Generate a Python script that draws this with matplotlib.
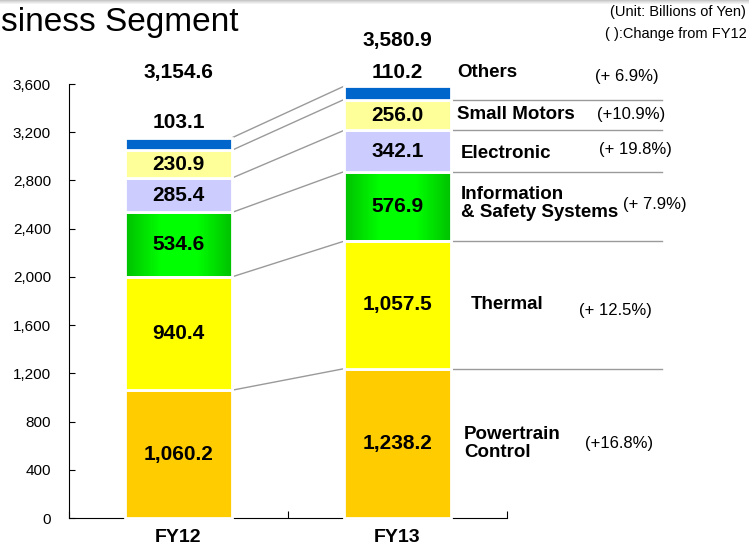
import matplotlib.pyplot as plt
import numpy as np
from matplotlib.colors import LinearSegmentedColormap
from matplotlib.patches import Rectangle

# values in billions of yen, bottom to top
years = ["FY12", "FY13"]
segments = ["Powertrain\nControl", "Thermal", "Information\n& Safety Systems",
            "Electronic", "Small Motors", "Others"]
fy12 = [1060.2, 940.4, 534.6, 285.4, 230.9, 103.1]
fy13 = [1238.2, 1057.5, 576.9, 342.1, 256.0, 110.2]
changes = ["(+16.8%)", "(+ 12.5%)", "(+ 7.9%)", "(+ 19.8%)", "(+10.9%)", "(+ 6.9%)"]
yticks = [0, 400, 800, 1200, 1600, 2000, 2400, 2800, 3200, 3600]

colors = ["#FFCC00", "#FFFF00", "#00E000", "#CCCCFF", "#FFFF99", "#0066CC"]

plt.rcParams['font.family'] = ['Liberation Sans', 'DejaVu Sans']

fig = plt.figure(figsize=(7.49, 5.51), dpi=100)
ax = fig.add_axes([69/749, 33/551, 438/749, 434/551])

# faint grey band along the top edge
for k, c in enumerate(['#c8c8c8', '#d8d8d8', '#e6e6e6', '#f2f2f2']):
    fig.add_artist(Rectangle((0, 1 - (k + 1)/551), 1, 1/551, transform=fig.transFigure,
                             facecolor=c, edgecolor='none'))

w = 0.49
x = np.arange(len(years))
data = np.array([fy12, fy13])
tops = np.cumsum(data, axis=1)
bottoms = tops - data

green_cmap = LinearSegmentedColormap.from_list('grn', ['#00C000', '#00FF00', '#00FF00', '#00C000'])
grad = np.tile(np.linspace(0, 1, 200), (50, 1))

for j in range(len(segments)):
    bars = ax.bar(x, data[:, j], w, bottom=bottoms[:, j], color=colors[j],
                  edgecolor='white', linewidth=2, zorder=3, clip_on=False)
    if j == 2:
        # horizontal gradient fill for the green segment
        for b in bars:
            x0, y0 = b.get_x(), b.get_y()
            im = ax.imshow(grad, cmap=green_cmap, interpolation='nearest',
                           extent=[x0, x0 + b.get_width(), y0, y0 + b.get_height()],
                           aspect='auto', zorder=2.9)
            im.set_clip_path(b)
            b.set_facecolor('none')

# connector lines between the two bars
for j in range(len(segments)):
    ax.plot([x[0] + w/2, x[1] - w/2], [tops[0, j], tops[1, j]], color='#9a9a9a',
            lw=1, zorder=2, clip_on=False)
# separators on the right
for j in range(len(segments) - 1):
    ax.plot([x[1] + w/2, x[1] + w/2 + 0.963], [tops[1, j], tops[1, j]],
            color='#9a9a9a', lw=1, zorder=2, clip_on=False)

# value labels
for i in range(len(years)):
    for j in range(len(segments) - 1):
        ax.text(x[i], bottoms[i, j] + data[i, j] / 2, f"{data[i, j]:,.1f}",
                ha='center', va='center', fontsize=15, fontweight='bold', zorder=5)

others_off = [15, 14]
total_off = [65, 46]
for i in range(len(years)):
    ax.annotate(f"{data[i, -1]:,.1f}", xy=(x[i], tops[i, -1]), xytext=(0, others_off[i]),
                textcoords='offset pixels', ha='center', va='center', fontsize=15,
                fontweight='bold', zorder=6, annotation_clip=False,
                bbox=dict(fc='white', ec='none', pad=4))
    ax.annotate(f"{tops[i, -1]:,.1f}", xy=(x[i], tops[i, -1]), xytext=(0, total_off[i]),
                textcoords='offset pixels', ha='center', va='center', fontsize=15,
                fontweight='bold', zorder=6, annotation_clip=False)

# segment names and change rates to the right of FY13
name_dx = [13, 20, 10, 10, 6, 6]
name_dy = [0, 0, 3, -2, 1, 20]
pct_dx = [168, 164, 204, 184, 180, 176]
pct_dy = [0, -6, 2, 2, 1, 16]
centers13 = bottoms[1] + data[1] / 2
for j in range(len(segments)):
    ax.annotate(segments[j], xy=(x[1] + w/2, centers13[j]), xytext=(name_dx[j], name_dy[j]),
                textcoords='offset pixels', ha='left', va='center', fontsize=13.5,
                fontweight='bold', linespacing=1.05, annotation_clip=False)
    ax.annotate(changes[j], xy=(x[1] + w/2, centers13[j]), xytext=(pct_dx[j], pct_dy[j]),
                textcoords='offset pixels', ha='center', va='center', fontsize=12,
                annotation_clip=False)

ax.set_xlim(-0.5, 1.5)
ax.set_ylim(0, 3600)
ax.set_yticks(yticks, [f"{v:,}" for v in yticks])
ax.set_xticks([-0.5, 0.5, 1.5], ["", "", ""])
ax.set_xticks(x, years, minor=True)
ax.tick_params(axis='y', direction='in', length=4, pad=13, labelsize=11)
ax.tick_params(axis='x', which='major', direction='in', length=5)
ax.tick_params(axis='x', which='minor', length=0, pad=8, labelsize=14)
for lab in ax.get_xticklabels(minor=True):
    lab.set_fontweight('bold')
for s in ['top', 'right']:
    ax.spines[s].set_visible(False)
ax.set_facecolor('none')

fig.text(1/749, 1 - 22/551, "siness Segment", ha='left', va='center', fontsize=24)
fig.text(746/749, 1 - 12/551, "(Unit: Billions of Yen)", ha='right', va='center', fontsize=10.5)
fig.text(747/749, 1 - 34/551, "( ):Change from FY12", ha='right', va='center', fontsize=10.5)

fig.savefig("out.png", dpi=100)
